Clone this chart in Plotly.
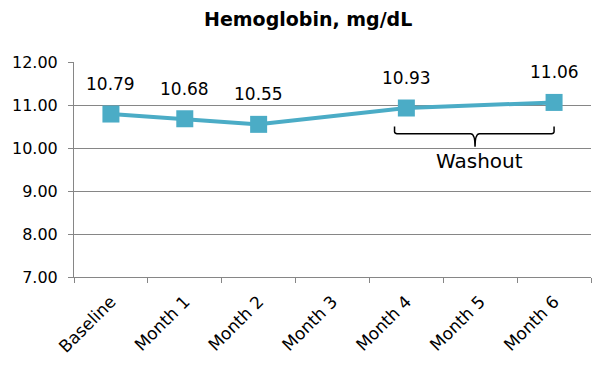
import plotly.graph_objects as go

categories = ["Baseline", "Month 1", "Month 2", "Month 3", "Month 4", "Month 5", "Month 6"]
hemoglobin = [10.79, 10.68, 10.55, None, 10.93, None, 11.06]
y_ticks = [7, 8, 9, 10, 11, 12]
washout_label = "Washout"
title_text = "Hemoglobin, mg/dL"

LINE = "#4BACC6"
FONT = "'DejaVu Sans', sans-serif"

fig = go.Figure()
fig.add_trace(go.Scatter(
    x=categories, y=hemoglobin, mode="lines+markers",
    connectgaps=True,
    line=dict(color=LINE, width=4),
    marker=dict(symbol="square", size=17, color=LINE),
    showlegend=False, hoverinfo="skip",
))

for c, v in zip(categories, hemoglobin):
    if v is None:
        continue
    fig.add_annotation(x=c, y=v, text=f"{v:.2f}", showarrow=False,
                       yshift=30, font=dict(size=17, color="#000000", family=FONT))

# Washout brace (category index coordinates)
x0, x1, xm = 3.84, 6.0, 4.93
yt, yh, ytip = 10.50, 10.33, 10.03
r = 0.06
path = (f"M {x0},{yt} L {x0},{yh+0.05} Q {x0},{yh} {x0+r},{yh} "
        f"L {xm-r},{yh} Q {xm},{yh} {xm},{ytip} "
        f"Q {xm},{yh} {xm+r},{yh} L {x1-r},{yh} Q {x1},{yh} {x1},{yh+0.05} L {x1},{yt}")
fig.add_shape(type="path", path=path, xref="x", yref="y",
              line=dict(color="#000000", width=1.5))
fig.add_annotation(x=4.99, y=9.69, text=washout_label, showarrow=False,
                   font=dict(size=20, color="#000000", family=FONT))

# Title as an annotation (plot area spans page y 62..277, x 74..591)
fig.add_annotation(xref="paper", yref="paper",
                   x=(308 - 74) / (591 - 74), y=1 + (62 - 19) / (277 - 62),
                   xanchor="center", yanchor="middle", showarrow=False,
                   borderpad=0,
                   text=f"<b>{title_text}</b>",
                   font=dict(size=19, color="#000000", family=FONT))

# page body has an 8px margin: figure is 592x359 so it lands at the right spot
fig.update_layout(
    width=592, height=359,
    margin=dict(l=66, r=9, t=54, b=90, autoexpand=False),
    paper_bgcolor="white", plot_bgcolor="white",
    font=dict(family=FONT, size=17, color="#000000"),
)
fig.update_xaxes(
    type="category", categoryorder="array", categoryarray=categories,
    range=[-0.5, 6.5], tickangle=-45, tickson="boundaries",
    ticks="outside", ticklen=5, tickcolor="#868686",
    ticklabelstandoff=7, automargin=False,
    showline=True, linecolor="#868686", linewidth=1,
    showgrid=False, tickfont=dict(size=17, family=FONT),
)
fig.update_yaxes(
    range=[7, 12], tickvals=y_ticks, tickformat=".2f",
    showgrid=True, gridcolor="#868686", gridwidth=1,
    showline=True, linecolor="#868686", linewidth=1,
    ticks="outside", ticklen=5, tickcolor="#868686",
    ticklabelstandoff=7, automargin=False,
    zeroline=False, tickfont=dict(size=16, family=FONT),
)

fig.write_html("out.html")
